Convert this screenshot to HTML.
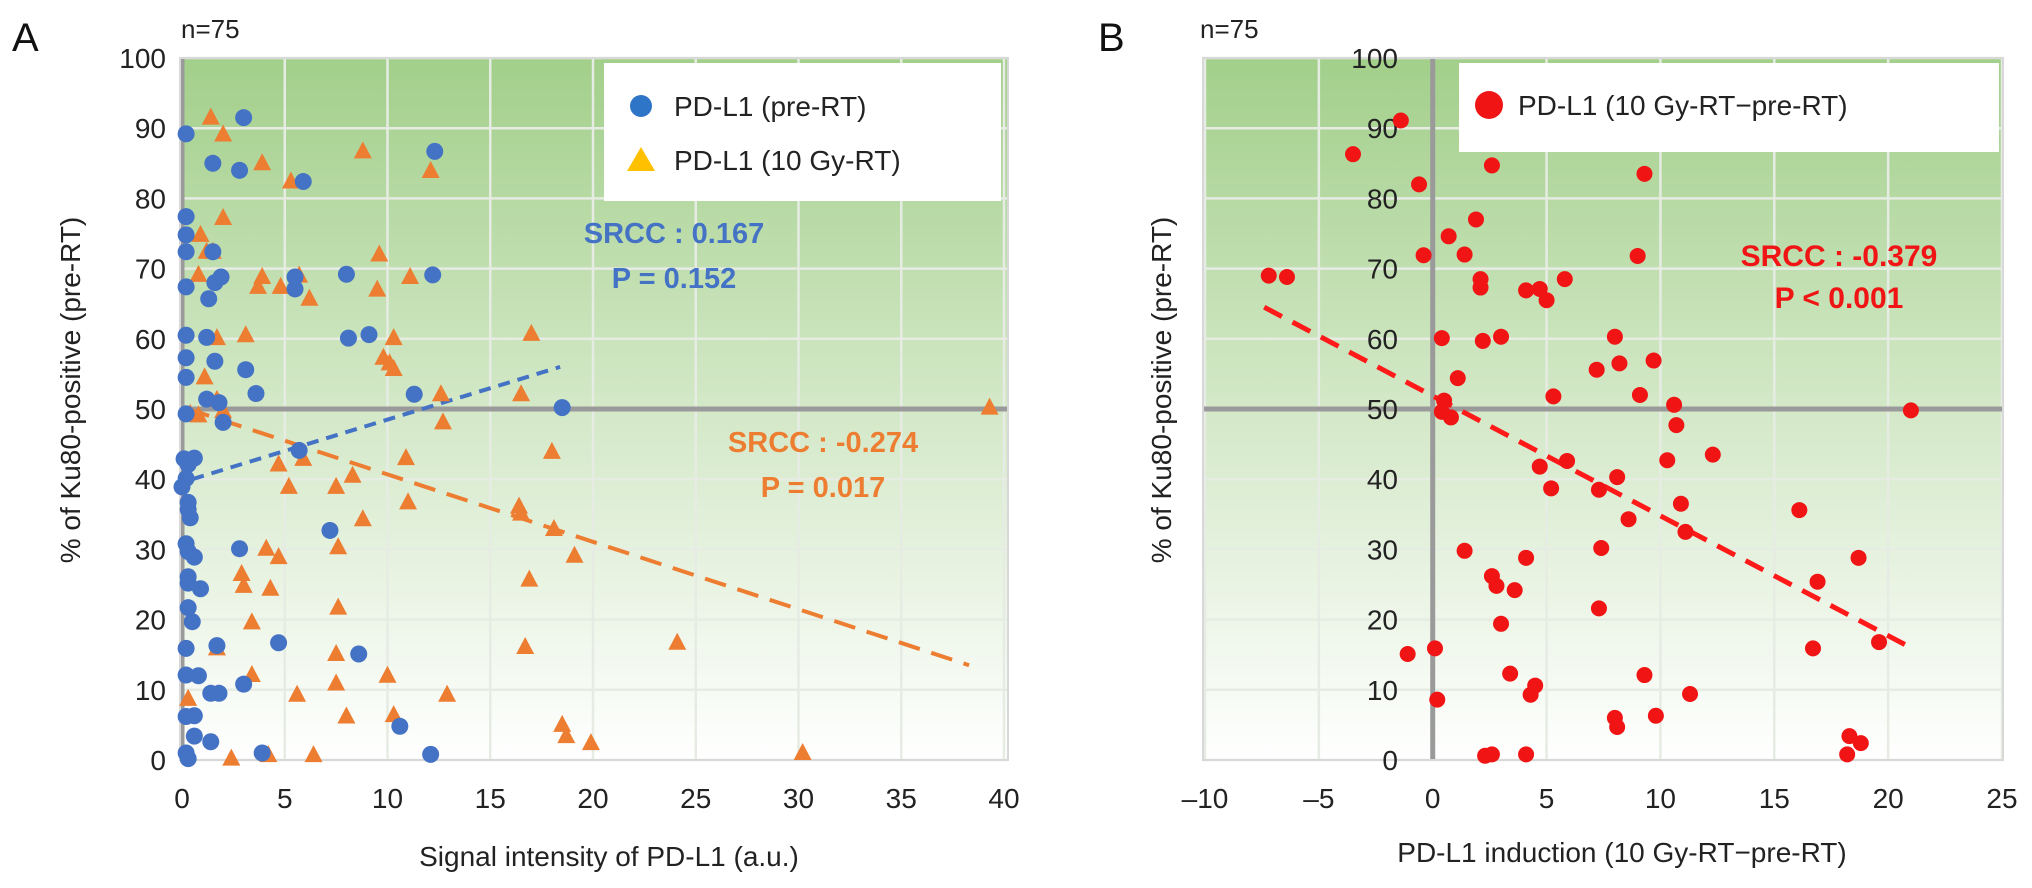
<!DOCTYPE html>
<html><head><meta charset="utf-8"><style>
html,body{margin:0;padding:0;background:#fff;}
svg{display:block;font-family:"Liberation Sans",Arial,sans-serif;}
</style></head><body>
<svg id="chart" width="2032" height="888" viewBox="0 0 2032 888" xmlns="http://www.w3.org/2000/svg">
<defs>
<linearGradient id="bg" x1="0" y1="0" x2="0" y2="1">
<stop offset="0" stop-color="#a2cf8a"/><stop offset="0.45" stop-color="#cfe6c2"/><stop offset="1" stop-color="#ffffff"/>
</linearGradient>
</defs>
<g id="panelA"></g>
<g id="panelB"></g>
</svg>
<script>
// Panel A data
const aXTicks = [0,5,10,15,20,25,30,35,40];
const yTicks = [0,10,20,30,40,50,60,70,80,90,100];
const aBlueX = [0.2,3.0,1.5,2.8,5.9,12.3,0.2,0.2,0.2,1.5,0.2,1.9,1.6,1.3,5.5,5.5,8.0,12.2,0.2,1.2,8.1,9.1,0.2,1.6,3.1,0.2,3.6,1.2,1.8,11.3,18.5,0.2,2.0,5.7,0.1,0.6,0.3,0.2,0,0.3,0.3,0.4,7.2,0.2,0.3,0.6,2.8,0.3,0.3,0.9,0.3,0.5,0.2,1.7,4.7,8.6,0.2,0.8,3.0,1.4,1.8,0.2,0.6,0.6,1.4,10.6,0.2,0.3,3.9,12.1];
const aBlueY = [89.2,91.5,85,84,82.4,86.7,77.4,74.8,72.4,72.4,67.4,68.8,68,65.7,68.8,67.1,69.2,69.1,60.5,60.2,60.1,60.6,57.3,56.8,55.6,54.5,52.2,51.4,50.9,52.1,50.2,49.3,48.1,44.1,42.9,43,42.1,40.1,38.9,36.7,35.7,34.5,32.7,30.8,29.7,28.9,30.1,26.1,25.2,24.4,21.7,19.7,15.9,16.3,16.7,15.1,12.1,12,10.8,9.5,9.5,6.2,6.3,3.4,2.6,4.8,1,0.2,1,0.8];
const aOrX = [1.4,2.0,8.8,3.9,5.3,12.1,2.0,0.9,1.2,1.5,0.8,9.6,3.9,3.7,4.8,5.7,6.2,9.5,11.1,1.7,3.1,10.3,17.0,9.8,10.1,10.3,1.1,1.7,12.6,16.5,0.4,0.8,2.0,12.7,39.3,5.9,4.7,10.9,18.0,8.3,5.2,7.5,11.0,16.4,16.5,8.8,18.1,4.1,4.7,7.6,19.1,2.9,3.0,4.3,16.9,3.4,7.6,24.1,1.7,7.5,16.7,3.4,7.5,10.0,12.9,0.3,5.6,8.0,10.3,18.5,18.7,19.9,2.4,4.2,6.4,30.2];
const aOrY = [91.5,89.1,86.7,85,82.4,83.9,77.2,74.8,72.4,72.4,69.1,72,68.8,67.4,67.4,69,65.7,67,68.8,60.1,60.5,60.1,60.7,57.3,56.5,55.7,54.5,51.3,52.1,52.1,49.3,49.1,49.7,48.1,50.2,42.9,42.1,43,43.9,40.5,38.9,38.9,36.7,36.1,35.1,34.3,32.9,30.1,28.9,30.3,29.1,26.5,24.8,24.4,25.7,19.6,21.7,16.7,15.9,15.1,16.1,12.1,10.9,12,9.3,8.7,9.3,6.2,6.4,5,3.4,2.4,0.2,0.7,0.7,1];
const aBlueTrendX = [0.5,18.4], aBlueTrendY = [40,56];
const aOrTrendX = [0.3,38.3], aOrTrendY = [50,13.5];
// Panel B data
const bXTicks = [-10,-5,0,5,10,15,20,25];
const bX = [-1.4,-3.5,2.6,-0.6,9.3,1.9,0.7,-0.4,1.4,9.0,-7.2,-6.4,2.1,2.1,5.8,4.1,4.7,5.0,0.4,2.2,3.0,8.0,7.2,8.2,9.7,1.1,5.3,9.1,10.6,0.5,0.4,0.8,10.7,21.0,12.3,10.3,4.7,5.9,8.1,5.2,7.3,10.9,16.1,8.6,11.1,1.4,7.4,4.1,18.7,2.6,2.8,3.6,16.9,7.3,3.0,-1.1,0.1,16.7,19.6,3.4,9.3,4.5,4.3,11.3,0.2,8.0,8.1,9.8,18.3,18.8,18.2,2.3,2.6,4.1];
const bY = [91.1,86.3,84.7,82,83.5,77,74.6,71.9,72,71.8,69,68.8,68.5,67.3,68.5,66.9,67.1,65.5,60.1,59.7,60.3,60.3,55.6,56.5,56.9,54.4,51.8,52,50.6,51.2,49.6,48.8,47.7,49.8,43.5,42.7,41.8,42.6,40.3,38.7,38.5,36.5,35.6,34.3,32.5,29.8,30.2,28.8,28.8,26.2,24.8,24.2,25.4,21.6,19.4,15.1,15.9,15.9,16.8,12.3,12.1,10.6,9.3,9.4,8.6,6,4.7,6.3,3.4,2.4,0.8,0.6,0.8,0.8];
const bTrendX = [-7.4,21], bTrendY = [64.5,16];

const NS = "http://www.w3.org/2000/svg";
function mk(parent, tag, attrs, text){
  const e = document.createElementNS(NS, tag);
  for (const k in attrs) e.setAttribute(k, attrs[k]);
  if (text !== undefined) e.textContent = text;
  parent.appendChild(e);
  return e;
}
const Y0 = 760, Y100 = 58;
function yS(v){ return Y0 + (Y100 - Y0) * v / 100; }

function drawFrame(g, left, right, xScale, xTicks, zeroX, yLabelRight, labels){
  let el = mk(g, 'rect', {x:left, y:Y100, width:right-left, height:Y0-Y100, fill:'url(#bg)'});
   
  xTicks.forEach(t => {
    const x = xScale(t);
    el = mk(g, 'line', {x1:x, x2:x, y1:Y100, y2:Y0, stroke:'#e6ece3', 'stroke-width':2.5});
     
    el = mk(g, 'text', {x:x, y:808, 'font-size':28, 'text-anchor':'middle', fill:'#222'}, labels.fmt(t));
     
  });
  yTicks.forEach(t => {
    const y = yS(t);
    el = mk(g, 'line', {x1:left, x2:right, y1:y, y2:y, stroke: t===50 ? '#9a9a9a' : '#e6ece3', 'stroke-width': t===50 ? 5 : 2.5});
     
  });
  el = mk(g, 'line', {x1:zeroX, x2:zeroX, y1:Y100, y2:Y0, stroke:'#9a9a9a', 'stroke-width':5});
   
  el = mk(g, 'rect', {x:left, y:Y100, width:right-left, height:Y0-Y100, fill:'none', stroke:'#d8d8d8', 'stroke-width':2});
   
  yTicks.forEach(t => {
    el = mk(g, 'text', {x:yLabelRight, y:yS(t)+10, 'font-size':28, 'text-anchor':'end', fill:'#222'}, String(t));
     
  });
}

// ---------- Panel A ----------
(function(){
  const g = document.getElementById('panelA');
  const left = 180, right = 1008;
  const xS = v => 182 + (1004 - 182) * v / 40;
  drawFrame(g, left, right, xS, aXTicks, xS(0), 166, {fmt: t => String(t)});
  let el;
  el = mk(g, 'line', {x1:xS(aBlueTrendX[0]), y1:yS(aBlueTrendY[0]), x2:xS(aBlueTrendX[1]), y2:yS(aBlueTrendY[1]), stroke:'#4472c4', 'stroke-width':4, 'stroke-dasharray':'12 8'});
   
  el = mk(g, 'line', {x1:xS(aOrTrendX[0]), y1:yS(aOrTrendY[0]), x2:xS(aOrTrendX[1]), y2:yS(aOrTrendY[1]), stroke:'#ed7d31', 'stroke-width':4, 'stroke-dasharray':'22 12'});
   
  aOrX.forEach((v, i) => {
    const cx = xS(v), cy = yS(aOrY[i]);
    el = mk(g, 'polygon', {points:`${cx},${cy-10} ${cx-9},${cy+7} ${cx+9},${cy+7}`, fill:'#ed7d31'});
     
  });
  aBlueX.forEach((v, i) => {
    el = mk(g, 'circle', {cx:xS(v), cy:yS(aBlueY[i]), r:8.5, fill:'#4472c4'});
     
  });
  const lg = mk(g, 'g', {});
   
  el = mk(lg, 'rect', {x:604, y:63, width:397, height:138, fill:'#fff'});
   
  el = mk(lg, 'circle', {cx:641, cy:106, r:11, fill:'#2e75c8'});
   
  el = mk(lg, 'text', {x:674, y:116, 'font-size':28, fill:'#222'}, 'PD-L1 (pre-RT)');
   
  el = mk(lg, 'polygon', {points:'641,147 627,171 655,171', fill:'#ffc000'});
   
  el = mk(lg, 'text', {x:674, y:170, 'font-size':28, fill:'#222'}, 'PD-L1 (10 Gy-RT)');
   
  el = mk(g, 'text', {x:674, y:243, 'font-size':29, 'font-weight':'bold', 'text-anchor':'middle', fill:'#4472c4', 'xml:space':'preserve'}, 'SRCC  : 0.167');
   
  el = mk(g, 'text', {x:674, y:288, 'font-size':29, 'font-weight':'bold', 'text-anchor':'middle', fill:'#4472c4'}, 'P = 0.152');
   
  el = mk(g, 'text', {x:823, y:452, 'font-size':29, 'font-weight':'bold', 'text-anchor':'middle', fill:'#ed7d31'}, 'SRCC : -0.274');
   
  el = mk(g, 'text', {x:823, y:497, 'font-size':29, 'font-weight':'bold', 'text-anchor':'middle', fill:'#ed7d31'}, 'P = 0.017');
   
  el = mk(g, 'text', {x:609, y:866, 'font-size':28, 'text-anchor':'middle', fill:'#222'}, 'Signal intensity of PD-L1 (a.u.)');
   
  el = mk(g, 'text', {x:0, y:0, 'font-size':28, 'text-anchor':'middle', fill:'#222', transform:'translate(80,390) rotate(-90)'}, '% of Ku80-positive (pre-RT)');
   
  el = mk(g, 'text', {x:12, y:51, 'font-size':40, fill:'#111'}, 'A');
   
  el = mk(g, 'text', {x:181, y:38, 'font-size':26, fill:'#222'}, 'n=75');
   
})();

// ---------- Panel B ----------
(function(){
  const g = document.getElementById('panelB');
  const left = 1203, right = 2003;
  const xS = v => 1205 + (2002 - 1205) * (v + 10) / 35;
  drawFrame(g, left, right, xS, bXTicks, xS(0), 1398, {fmt: t => t < 0 ? '\u2013' + Math.abs(t) : String(t)});
  let el;
  el = mk(g, 'line', {x1:xS(bTrendX[0]), y1:yS(bTrendY[0]), x2:xS(bTrendX[1]), y2:yS(bTrendY[1]), stroke:'#ff1a1a', 'stroke-width':5, 'stroke-dasharray':'20 12'});
   
  bX.forEach((v, i) => {
    el = mk(g, 'circle', {cx:xS(v), cy:yS(bY[i]), r:8, fill:'#f01414'});
     
  });
  const lg = mk(g, 'g', {});
   
  el = mk(lg, 'rect', {x:1459, y:63, width:540, height:89, fill:'#fff'});
   
  el = mk(lg, 'circle', {cx:1489, cy:105, r:14, fill:'#f01414'});
   
  el = mk(lg, 'text', {x:1518, y:115, 'font-size':28, fill:'#222'}, 'PD-L1 (10 Gy-RT\u2212pre-RT)');
   
  el = mk(g, 'text', {x:1839, y:266, 'font-size':30, 'font-weight':'bold', 'text-anchor':'middle', fill:'#f01414'}, 'SRCC : -0.379');
   
  el = mk(g, 'text', {x:1839, y:308, 'font-size':30, 'font-weight':'bold', 'text-anchor':'middle', fill:'#f01414'}, 'P < 0.001');
   
  el = mk(g, 'text', {x:1622, y:862, 'font-size':28, 'text-anchor':'middle', fill:'#222'}, 'PD-L1 induction (10 Gy-RT\u2212pre-RT)');
   
  el = mk(g, 'text', {x:0, y:0, 'font-size':28, 'text-anchor':'middle', fill:'#222', transform:'translate(1171,390) rotate(-90)'}, '% of Ku80-positive (pre-RT)');
   
  el = mk(g, 'text', {x:1098, y:51, 'font-size':40, fill:'#111'}, 'B');
   
  el = mk(g, 'text', {x:1200, y:38, 'font-size':26, fill:'#222'}, 'n=75');
   
})();
</script>
</body></html>
